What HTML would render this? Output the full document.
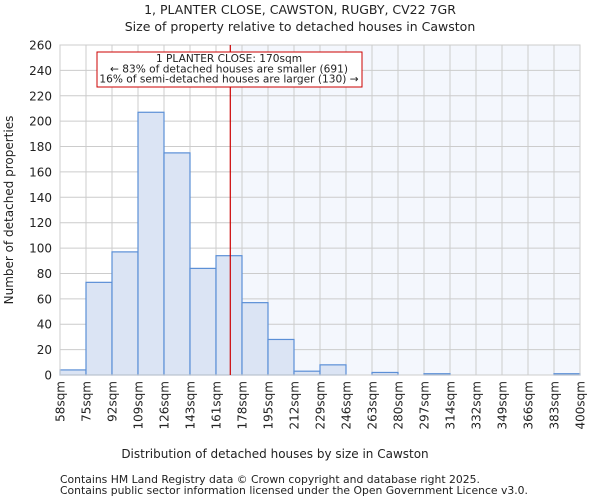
<!DOCTYPE html>
<html><head><meta charset="utf-8"><style>
body{margin:0;background:#fff;font-family:"DejaVu Sans","Liberation Sans",sans-serif;}
svg text{font-family:"DejaVu Sans","Liberation Sans",sans-serif;fill:#222;}
</style></head><body>
<svg id="c" width="600" height="500" xmlns="http://www.w3.org/2000/svg">
<text x="300" y="14" text-anchor="middle" font-size="12.5">1, PLANTER CLOSE, CAWSTON, RUGBY, CV22 7GR</text>
<text x="300" y="31" text-anchor="middle" font-size="12.5">Size of property relative to detached houses in Cawston</text>
<g id="plot"></g>
<text x="275" y="458" text-anchor="middle" font-size="12">Distribution of detached houses by size in Cawston</text>
<text transform="translate(13,210) rotate(-90)" text-anchor="middle" font-size="12">Number of detached properties</text>
<text x="60" y="483" font-size="10.8">Contains HM Land Registry data © Crown copyright and database right 2025.</text>
<text x="60" y="494" font-size="10.8">Contains public sector information licensed under the Open Government Licence v3.0.</text>
</svg>
<script>
const binLabels=["58sqm","75sqm","92sqm","109sqm","126sqm","143sqm","161sqm","178sqm","195sqm","212sqm","229sqm","246sqm","263sqm","280sqm","297sqm","314sqm","332sqm","349sqm","366sqm","383sqm","400sqm"];
const counts=[4,73,97,207,175,84,94,57,28,3,8,0,2,0,1,0,0,0,0,1];
const yTicks=[0,20,40,60,80,100,120,140,160,180,200,220,240,260];
const propertySize=170;
const binStart=58, binEnd=400;
const L=60,R=580,T=45,B=375,yMax=260;
const NS="http://www.w3.org/2000/svg";
const g=document.getElementById('plot');
const n=counts.length;
const xi=i=>L+(R-L)*i/n;
const xv=v=>L+(R-L)*(v-binStart)/(binEnd-binStart);
const y=v=>B-(B-T)*v/yMax;
function mk(t,a){const e=document.createElementNS(NS,t);for(const k in a)e.setAttribute(k,a[k]);g.appendChild(e);return e;}
const px=xv(propertySize);
let e=mk('rect',{x:px,y:T,width:R-px,height:B-T,fill:'#f4f7fd'});


yTicks.forEach(t=>{
 let l=mk('line',{x1:L,x2:R,y1:y(t),y2:y(t),stroke:'#cccccc','stroke-width':1});
 
 
 let tx=mk('text',{x:L-8,y:y(t)+4.5,'text-anchor':'end','font-size':'12'});
 tx.textContent=t;
 
 
});
binLabels.forEach((lb,i)=>{
 let l=mk('line',{x1:xi(i),x2:xi(i),y1:T,y2:B,stroke:'#cccccc','stroke-width':1});
 
 
 let tx=mk('text',{transform:`translate(${xi(i)+4.5},${B+6}) rotate(-90)`,'text-anchor':'end','font-size':'12'});
 tx.textContent=lb;
 
 
});
counts.forEach((c,i)=>{
 let r=mk('rect',{x:xi(i),y:y(c),width:xi(i+1)-xi(i),height:B-y(c),fill:'#dbe4f4',stroke:'#5b8fd6','stroke-width':1.2});
 
 
});
let ax=mk('rect',{x:L,y:T,width:R-L,height:B-T,fill:'none',stroke:'#cccccc'});


let rl=mk('line',{x1:px,x2:px,y1:T,y2:B,stroke:'#cc0000','stroke-width':1.2});


let bx=mk('rect',{x:97,y:52,width:265,height:35,fill:'#fff',stroke:'#cc0000','stroke-width':1});


["1 PLANTER CLOSE: 170sqm","← 83% of detached houses are smaller (691)","16% of semi-detached houses are larger (130) →"].forEach((s,k)=>{
 let t=mk('text',{x:229,y:62+k*10.3,'text-anchor':'middle','font-size':'10.6'});
 t.textContent=s;
 
 
});
</script>
</body></html>
